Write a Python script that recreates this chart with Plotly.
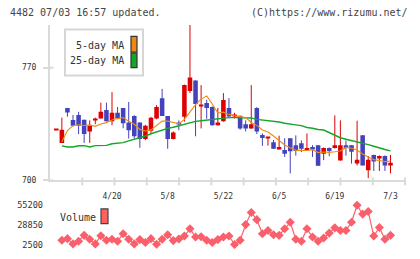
import plotly.graph_objects as go

# ---------------- data ----------------
tick_labels = ["4/20", "5/8", "5/22", "6/5", "6/19", "7/3"]
tick_index = [10, 20, 30, 40, 50, 60]

opens = [731.5, 723.3, 745.0, 737.6, 740.6, 737.7, 730.4, 737.4, 738.5, 743.8,
         736.7, 742.0, 745.0, 735.9, 740.0, 735.9, 725.7, 730.9, 738.5, 751.1,
         740.0, 725.7, 736.0, 739.6, 755.6, 762.1, 746.5, 748.1, 745.6, 734.3,
         736.7, 745.0, 740.0, 740.2, 734.9, 732.3, 745.0, 728.2, 726.4, 723.7,
         719.5, 718.9, 726.2, 721.9, 723.1, 719.1, 720.7, 721.9, 716.6, 720.1,
         720.1, 712.4, 721.9, 721.9, 710.5, 728.0, 706.3, 715.8, 713.6, 715.2,
         709.3]
highs = [731.6, 739.0, 745.0, 740.6, 742.6, 737.7, 737.3, 739.0, 748.3, 748.3,
         754.8, 745.6, 745.0, 748.7, 740.5, 736.0, 734.5, 739.5, 746.7, 756.8,
         740.0, 730.5, 737.3, 759.5, 796.5, 762.1, 759.2, 750.1, 746.0, 745.0,
         754.2, 751.1, 742.0, 740.2, 737.3, 759.2, 745.5, 729.2, 726.8, 725.1,
         727.8, 726.2, 726.2, 728.0, 724.8, 729.2, 721.9, 721.9, 720.5, 720.5,
         740.4, 737.3, 724.8, 721.9, 737.1, 728.0, 715.2, 716.0, 715.5, 715.5,
         715.8]
lows = [731.4, 723.3, 739.6, 733.5, 728.8, 723.3, 723.3, 734.9, 738.5, 736.5,
        734.3, 738.5, 732.4, 726.0, 726.0, 720.3, 725.0, 728.8, 738.0, 740.0,
        719.7, 725.5, 731.2, 736.5, 754.2, 727.4, 732.3, 738.3, 734.0, 734.0,
        736.5, 739.5, 738.5, 731.5, 730.4, 732.0, 728.8, 721.5, 721.6, 719.5,
        719.3, 714.6, 704.4, 715.4, 717.6, 719.0, 714.6, 709.0, 712.6, 715.0,
        719.8, 712.4, 715.4, 710.5, 709.3, 709.3, 701.4, 705.9, 705.9, 705.9,
        704.4]
closes = [731.5, 731.5, 742.2, 733.9, 733.9, 728.8, 733.9, 737.6, 742.6, 736.7,
          742.0, 738.5, 735.5, 731.2, 727.4, 725.7, 733.9, 739.0, 745.6, 740.0,
          725.7, 729.8, 735.0, 759.2, 763.9, 747.5, 746.9, 745.0, 734.3, 735.9,
          749.9, 739.7, 741.0, 732.3, 732.3, 734.9, 730.4, 726.4, 726.6, 719.7,
          720.7, 716.6, 718.1, 718.3, 719.7, 720.1, 719.5, 709.1, 720.1, 718.3,
          721.9, 721.9, 720.1, 717.8, 712.8, 709.3, 712.8, 711.7, 715.2, 709.3,
          711.0]
ma5 = [None, 724.0, 731.0, 734.0, 734.6, 734.1, 734.5, 733.6, 735.0, 735.9,
       737.5, 738.4, 739.1, 736.8, 734.9, 731.7, 730.7, 731.4, 734.3, 736.8,
       736.8, 736.0, 735.2, 737.9, 742.7, 747.1, 750.5, 752.5, 747.5, 741.9,
       742.4, 741.0, 740.2, 739.8, 739.0, 736.0, 734.2, 731.3, 730.1, 727.6,
       724.8, 722.0, 720.3, 718.7, 718.7, 718.6, 719.1, 717.3, 717.7, 717.4,
       717.8, 718.3, 720.5, 720.0, 718.9, 716.4, 714.6, 712.9, 712.4, 711.7,
       712.0]
ma25 = [None, 721.5, 720.8, 720.8, 721.5, 721.6, 720.8, 721.6, 721.6, 721.8,
        722.8, 723.3, 723.5, 724.6, 725.5, 726.4, 727.6, 729.0, 730.2, 731.2,
        732.3, 733.0, 733.9, 734.8, 735.8, 736.7, 737.1, 737.5, 737.7, 737.9,
        738.4, 739.0, 739.0, 739.0, 739.0, 738.8, 737.9, 737.6, 737.0, 736.6,
        736.3, 735.5, 735.2, 734.5, 734.0, 732.9, 732.4, 731.6, 731.3, 729.7,
        728.3, 726.5, 725.6, 724.8, 724.2, 723.4, 722.2, 721.2, 720.1, 719.2,
        718.4]
volume = [None, 8100, 10300, 3300, 6800, 14700, 9400, 3300, 14200, 8100,
          9400, 6800, 16900, 9400, 3300, 9000, 5100, 10300, 2900, 9400,
          15500, 7700, 9900, 13800, 23400, 12500, 12900, 8100, 5100, 9000,
          12500, 13800, 2500, 8100, 29000, 45200, 35600, 16900, 21200, 15500,
          14700, 23400, 32100, 9400, 6800, 23400, 12500, 6800, 11200, 17700,
          24700, 21200, 21200, 32100, 54800, 43000, 46500, 13800, 25100, 9400,
          14700]
vol_ticks = [2500, 28850, 55200]
vol_tick_text = ["2500", "28850", "55200"]
price_ticks = [700, 770]
price_tick_text = ["700", "770"]

# ---------------- styling ----------------
W, H = 420, 259
RED = "#dd0000"
BLUE = "#4343bd"
ORANGE = "#ee8a14"
GREEN = "#14a626"
VOLC = "#f9606b"
AX = "#dadada"
TXT = "#333333"
MONO = "DejaVu Sans Mono"


def fy(p):
    return 1 - p / H


def fx(p):
    return p / W


idx = list(range(len(opens)))
up = [c >= o for o, c in zip(opens, closes)]

fig = go.Figure()

# wicks
for color, flag in ((RED, True), (BLUE, False)):
    xs, ys = [], []
    for i in idx:
        if up[i] == flag:
            xs += [i, i, None]
            ys += [lows[i], highs[i], None]
    fig.add_trace(go.Scatter(x=xs, y=ys, mode="lines", line=dict(color=color, width=1),
                             hoverinfo="skip", showlegend=False))

# bodies
fig.add_trace(go.Bar(
    x=idx,
    y=[max(abs(c - o), 0.6) for o, c in zip(opens, closes)],
    base=[min(o, c) for o, c in zip(opens, closes)],
    marker=dict(color=[RED if u else BLUE for u in up], line=dict(width=0)),
    width=0.82, showlegend=False, hoverinfo="skip"))

# moving averages
fig.add_trace(go.Scatter(x=idx, y=ma25, mode="lines", line=dict(color=GREEN, width=1.4),
                         showlegend=False, hoverinfo="skip"))
fig.add_trace(go.Scatter(x=idx, y=ma5, mode="lines", line=dict(color=ORANGE, width=1.1),
                         showlegend=False, hoverinfo="skip"))

# volume
fig.add_trace(go.Scatter(x=idx, y=volume, mode="lines+markers", xaxis="x2", yaxis="y2",
                         line=dict(color=VOLC, width=1.2),
                         marker=dict(symbol="diamond", size=7, color=VOLC),
                         showlegend=False, hoverinfo="skip"))

xr = [(50 - 56.3) / 5.57, (405 - 56.3) / 5.57]
xdom = [fx(50), fx(405)]

fig.update_layout(
    width=W, height=H, margin=dict(l=0, r=0, t=0, b=0),
    paper_bgcolor="white", plot_bgcolor="white", showlegend=False,
    xaxis=dict(domain=xdom, range=xr, anchor="y", showgrid=False, zeroline=False,
               showline=True, linecolor=AX, linewidth=2,
               tickmode="array", tickvals=tick_index, ticktext=tick_labels,
               ticks="outside", ticklen=5, tickcolor="rgba(0,0,0,0)",
               ticklabelstandoff=2,
               tickfont=dict(family=MONO, size=8, color=TXT)),
    yaxis=dict(domain=[fy(184), fy(25)], range=[700, 796.8], anchor="x",
               showgrid=False, zeroline=False, showline=True, linecolor=AX, linewidth=2,
               tickmode="array", tickvals=price_ticks, ticktext=price_tick_text,
               ticks="outside", ticklen=5, tickcolor=AX, tickwidth=2,
               ticklabelstandoff=5,
               tickfont=dict(family=MONO, size=8, color=TXT)),
    xaxis2=dict(domain=xdom, range=xr, anchor="y2", showgrid=False, zeroline=False,
                showline=False, showticklabels=False, ticks=""),
    yaxis2=dict(domain=[fy(254), fy(204)], range=[-3646, 61738], anchor="x2",
                showgrid=False, zeroline=False, showline=False,
                tickmode="array", tickvals=vol_ticks, ticktext=vol_tick_text, ticks="",
                ticklabelstandoff=6,
                tickfont=dict(family=MONO, size=8.6, color=TXT)),
)

shapes = []
# crossing tick marks on the time axis (11 equal divisions)
for k in range(1, 12):
    shapes.append(dict(type="line", xref="x domain", yref="paper", x0=k / 11, x1=k / 11,
                       y0=fy(189), y1=fy(181), line=dict(color=AX, width=2)))
# inner part of price ticks
for p in price_ticks:
    shapes.append(dict(type="line", xref="paper", yref="y", x0=fx(50), x1=fx(53.5),
                       y0=p, y1=p, line=dict(color=AX, width=2)))
# legend box
shapes.append(dict(type="rect", xref="paper", yref="paper", x0=fx(65), x1=fx(143),
                   y0=fy(77), y1=fy(30), line=dict(color="#d6d6d6", width=2),
                   fillcolor="white", layer="above"))
shapes.append(dict(type="rect", xref="paper", yref="paper", x0=fx(131), x1=fx(137),
                   y0=fy(53), y1=fy(37), line=dict(color="#333333", width=1.2),
                   fillcolor=ORANGE, layer="above"))
shapes.append(dict(type="rect", xref="paper", yref="paper", x0=fx(131), x1=fx(137),
                   y0=fy(69), y1=fy(54), line=dict(color="#333333", width=1.2),
                   fillcolor=GREEN, layer="above"))
# volume legend swatch
shapes.append(dict(type="rect", xref="paper", yref="paper", x0=fx(101), x1=fx(108),
                   y0=fy(228), y1=fy(213), line=dict(color="#444444", width=1.2),
                   fillcolor="#ff6060", layer="above"))
fig.update_layout(shapes=shapes)

ann = [
    dict(text="4482 07/03 16:57 updated.", x=fx(8), y=fy(13), xanchor="left", size=10, color="#444444"),
    dict(text="(C)https://www.rizumu.net/", x=fx(410), y=fy(13), xanchor="right", size=10, color="#444444"),
    dict(text="5-day MA", x=fx(126), y=fy(46), xanchor="right", size=10, color=TXT),
    dict(text="25-day MA", x=fx(126), y=fy(62), xanchor="right", size=10, color=TXT),
    dict(text="Volume", x=fx(58), y=fy(222), xanchor="left", size=10, color=TXT),
]
for a in ann:
    fig.add_annotation(text=a["text"], x=a["x"], y=a["y"], xref="paper", yref="paper",
                       xanchor=a["xanchor"], yanchor="middle", showarrow=False,
                       font=dict(family=MONO, size=a["size"], color=a["color"]))

fig.write_html("out.html")
